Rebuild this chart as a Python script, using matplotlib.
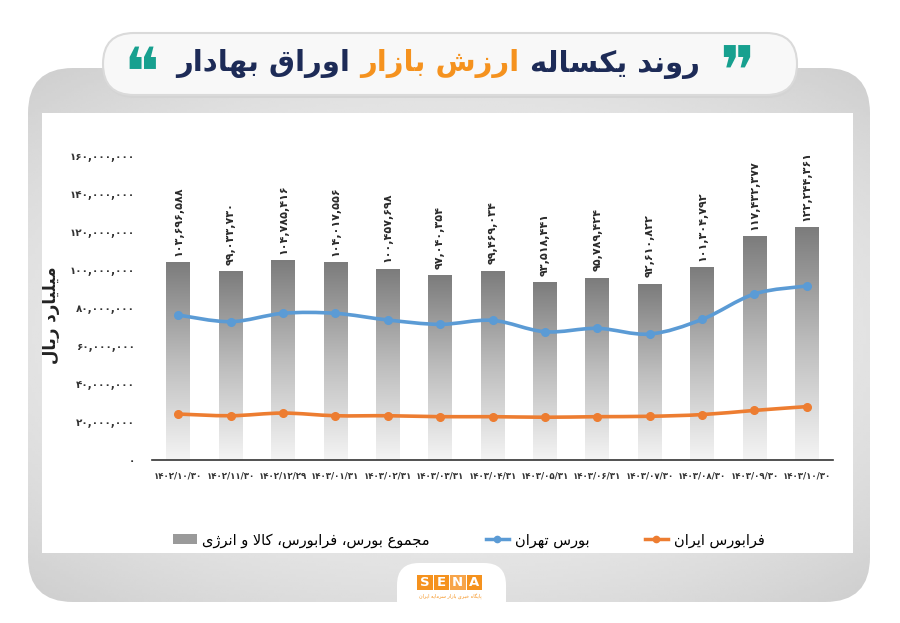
import numpy as np
import matplotlib.pyplot as plt
from matplotlib.patches import FancyBboxPatch, Patch, PathPatch, Rectangle
from matplotlib.path import Path
from matplotlib.lines import Line2D
from matplotlib.colors import LinearSegmentedColormap

# ---- data (billion rial) ----
dates = ['1402/10/30', '1402/11/30', '1402/12/29', '1403/01/31', '1403/02/31',
         '1403/03/31', '1403/04/31', '1403/05/31', '1403/06/31', '1403/07/30',
         '1403/08/30', '1403/09/30', '1403/10/30']
total_market = [103696588, 99033730, 104785416, 104017556, 100457698, 97040354,
                99469034, 93518441, 95789424, 92610822, 101304792, 117432377,
                122244361]
tehran = [76300000, 72800000, 77200000, 77200000, 73700000, 71400000, 73500000,
          67500000, 69300000, 66300000, 74000000, 87400000, 91600000]
farabourse = [24200000, 23300000, 24700000, 23300000, 23300000, 22800000, 22800000,
              22500000, 22800000, 23000000, 23900000, 26100000, 28100000]
y_ticks = [0, 20000000, 40000000, 60000000, 80000000, 100000000, 120000000,
           140000000, 160000000]

title_parts = ['روند یکساله', 'ارزش بازار', 'اوراق بهادار']
y_title = 'میلیارد ریال'
legend_labels = ['مجموع بورس، فرابورس، کالا و انرژی', 'بورس تهران', 'فرابورس ایران']

NAVY = '#1d2b57'
ORANGE = '#f5921e'
TEAL = '#17a08f'
BLUE = '#5b9bd5'
LINE_ORANGE = '#ed7d31'

# ---- minimal Persian shaping (matplotlib has no RTL layout) ----
FORMS = {
    'ا': ('\uFE8D', '\uFE8E', None, None), 'آ': ('\uFE81', '\uFE82', None, None),
    'ب': ('\uFE8F', '\uFE90', '\uFE91', '\uFE92'), 'پ': ('\uFB56', '\uFB57', '\uFB58', '\uFB59'),
    'ت': ('\uFE95', '\uFE96', '\uFE97', '\uFE98'), 'ث': ('\uFE99', '\uFE9A', '\uFE9B', '\uFE9C'),
    'ج': ('\uFE9D', '\uFE9E', '\uFE9F', '\uFEA0'), 'چ': ('\uFB7A', '\uFB7B', '\uFB7C', '\uFB7D'),
    'ح': ('\uFEA1', '\uFEA2', '\uFEA3', '\uFEA4'), 'خ': ('\uFEA5', '\uFEA6', '\uFEA7', '\uFEA8'),
    'د': ('\uFEA9', '\uFEAA', None, None), 'ذ': ('\uFEAB', '\uFEAC', None, None),
    'ر': ('\uFEAD', '\uFEAE', None, None), 'ز': ('\uFEAF', '\uFEB0', None, None),
    'ژ': ('\uFB8A', '\uFB8B', None, None),
    'س': ('\uFEB1', '\uFEB2', '\uFEB3', '\uFEB4'), 'ش': ('\uFEB5', '\uFEB6', '\uFEB7', '\uFEB8'),
    'ص': ('\uFEB9', '\uFEBA', '\uFEBB', '\uFEBC'), 'ض': ('\uFEBD', '\uFEBE', '\uFEBF', '\uFEC0'),
    'ط': ('\uFEC1', '\uFEC2', '\uFEC3', '\uFEC4'), 'ظ': ('\uFEC5', '\uFEC6', '\uFEC7', '\uFEC8'),
    'ع': ('\uFEC9', '\uFECA', '\uFECB', '\uFECC'), 'غ': ('\uFECD', '\uFECE', '\uFECF', '\uFED0'),
    'ف': ('\uFED1', '\uFED2', '\uFED3', '\uFED4'), 'ق': ('\uFED5', '\uFED6', '\uFED7', '\uFED8'),
    'ک': ('\uFB8E', '\uFB8F', '\uFB90', '\uFB91'), 'گ': ('\uFB92', '\uFB93', '\uFB94', '\uFB95'),
    'ل': ('\uFEDD', '\uFEDE', '\uFEDF', '\uFEE0'), 'م': ('\uFEE1', '\uFEE2', '\uFEE3', '\uFEE4'),
    'ن': ('\uFEE5', '\uFEE6', '\uFEE7', '\uFEE8'), 'و': ('\uFEED', '\uFEEE', None, None),
    'ه': ('\uFEE9', '\uFEEA', '\uFEEB', '\uFEEC'), 'ی': ('\uFBFC', '\uFBFD', '\uFBFE', '\uFBFF'),
}


def joins_next(c):
    return c in FORMS and FORMS[c][2] is not None


def fa(s):
    res = []
    i = 0
    while i < len(s):
        c = s[i]
        link_prev = i > 0 and joins_next(s[i - 1])
        if c == 'ل' and i + 1 < len(s) and s[i + 1] == 'ا':
            res.append('\uFEFC' if link_prev else '\uFEFB')
            i += 2
            continue
        if c not in FORMS:
            res.append(c)
            i += 1
            continue
        nxt = s[i + 1] if i + 1 < len(s) else ''
        link_next = joins_next(c) and nxt in FORMS
        iso, fin, ini, med = FORMS[c]
        if link_prev and link_next:
            res.append(med)
        elif link_prev:
            res.append(fin)
        elif link_next:
            res.append(ini)
        else:
            res.append(iso)
        i += 1
    return ''.join(reversed(res))


DIGITS = str.maketrans('0123456789', '۰۱۲۳۴۵۶۷۸۹')


def fnum(v):
    return f'{v:,}'.translate(DIGITS)


W, H = 900, 623
fig = plt.figure(figsize=(W / 100, H / 100), dpi=100)
fig.patch.set_facecolor('white')

# background layer in pixel coordinates
bg = fig.add_axes([0, 0, 1, 1], zorder=0)
bg.set_xlim(0, W)
bg.set_ylim(H, 0)
bg.axis('off')

panel = FancyBboxPatch((28, 68), 842, 534, boxstyle='round,pad=0,rounding_size=45',
                       facecolor='none', edgecolor='none')
bg.add_patch(panel)
yy, xx = np.mgrid[-1:1:200j, -1:1:300j]
shade = 0.95 - 0.08 * (xx ** 2 * 0.8 + yy ** 2)
im = bg.imshow(shade, cmap='gray', vmin=0, vmax=1, extent=[28, 870, 602, 68],
               aspect='auto', zorder=1)
im.set_clip_path(panel)

bg.add_patch(Rectangle((42, 113), 811, 440, facecolor='white', edgecolor='none', zorder=2))

# title pill
bg.add_patch(FancyBboxPatch((104, 36), 694, 62, boxstyle='round,pad=0,rounding_size=31',
                            facecolor='#d4d4d4', edgecolor='none', zorder=3))
bg.add_patch(FancyBboxPatch((103, 33), 694, 62, boxstyle='round,pad=0,rounding_size=31',
                            facecolor='#f8f8f8', edgecolor='#dadada', lw=1.5, zorder=4))

# title text, laid out right to left
renderer = fig.canvas.get_renderer()
colors = [NAVY, ORANGE, NAVY]
texts = []
for part, col in zip(title_parts, colors):
    t = bg.text(0, 64, fa(part), fontsize=21, fontweight='bold', color=col,
                ha='right', va='center', zorder=5, family='DejaVu Sans')
    texts.append(t)
gap = 10
widths = [t.get_window_extent(renderer).width for t in texts]
total = sum(widths) + gap * (len(widths) - 1)
right = 438 + total / 2
for t, w in zip(texts, widths):
    t.set_x(right)
    right -= w + gap
bg.text(737, 76, '\u275E', fontsize=48, color=TEAL, ha='center', va='center', zorder=5)
bg.text(141, 76, '\u275D', fontsize=48, color=TEAL, ha='center', va='center', zorder=5)

# y axis title
bg.text(51, 315, fa(y_title), fontsize=12, fontweight='bold', color='#222222',
        rotation=90, ha='center', va='center', zorder=5)

# logo
bg.add_patch(FancyBboxPatch((397, 563), 109, 60, boxstyle='round,pad=0,rounding_size=22',
                            facecolor='white', edgecolor='none', zorder=3))
for k, ch in enumerate('SENA'):
    x0 = 417 + k * 16.5
    bg.add_patch(Rectangle((x0, 575), 15.5, 15, facecolor=ORANGE if k != 2 else '#f7a54a',
                           edgecolor='none', zorder=4))
    bg.text(x0 + 7.75, 583, ch, fontsize=9.5, fontweight='bold', color='white',
            ha='center', va='center', zorder=5)
bg.text(450, 597, fa('پایگاه خبری بازار سرمایه ایران'), fontsize=3.5, color=ORANGE,
        ha='center', va='center', zorder=5)

# ---- chart ----
ax = fig.add_axes([152 / W, 1 - 460 / H, 681 / W, 304 / H], zorder=2)
ax.patch.set_visible(False)
x = np.arange(len(dates))
bar_w = 0.45
grad = np.linspace(0, 1, 256).reshape(-1, 1)
bar_cmap = LinearSegmentedColormap.from_list('bar', ['#f4f4f4', '#bdbdbd', '#7c7c7c'])
for xi, v in zip(x, total_market):
    ax.imshow(grad, cmap=bar_cmap, origin='lower', aspect='auto',
              extent=[xi - bar_w / 2, xi + bar_w / 2, 0, v], zorder=1)
    ax.text(xi, v + 3500000, fnum(v), rotation=90, ha='center', va='bottom',
            fontsize=8, fontweight='bold', color='#2b2b2b')


def smooth_path(xs, ys):
    pts = np.column_stack([xs, ys]).astype(float)
    ext = np.vstack([pts[0], pts, pts[-1]])
    verts = [pts[0]]
    codes = [Path.MOVETO]
    for i in range(1, len(ext) - 2):
        p0, p1, p2, p3 = ext[i - 1], ext[i], ext[i + 1], ext[i + 2]
        verts += [p1 + (p2 - p0) / 6, p2 - (p3 - p1) / 6, p2]
        codes += [Path.CURVE4] * 3
    return Path(verts, codes)


for series, col in [(tehran, BLUE), (farabourse, LINE_ORANGE)]:
    ax.add_patch(PathPatch(smooth_path(x, series), facecolor='none', edgecolor=col,
                           lw=2.6, zorder=3, capstyle='round'))
    ax.plot(x, series, 'o', color=col, ms=5.5, zorder=4)

ax.set_xlim(-0.5, len(dates) - 0.5)
ax.set_ylim(0, 160000000)
ax.set_yticks(y_ticks)
ax.set_yticklabels([fnum(v) for v in y_ticks], fontsize=7.5, fontweight='bold', color='#333333')
ax.set_xticks(x)
ax.set_xticklabels([d.translate(DIGITS) for d in dates], fontsize=6.2, fontweight='bold',
                   color='#333333')
ax.tick_params(axis='y', length=0, pad=12)
ax.tick_params(axis='x', length=0, pad=8)
for s in ['top', 'right', 'left']:
    ax.spines[s].set_visible(False)
ax.spines['bottom'].set_color('#333333')
ax.spines['bottom'].set_linewidth(1.2)

handles = [Patch(facecolor='#9a9a9a', edgecolor='none'),
           Line2D([], [], color=BLUE, lw=2.5, marker='o', ms=4.5),
           Line2D([], [], color=LINE_ORANGE, lw=2.5, marker='o', ms=4.5)]
leg = fig.legend(handles, [fa(s) for s in legend_labels], loc='center',
                 bbox_to_anchor=(469 / W, 1 - 540 / H), ncol=3, frameon=False,
                 fontsize=10.5, columnspacing=3.8, handlelength=1.6, handletextpad=0.4)
leg.set_zorder(5)

fig.savefig('out.png', dpi=100, facecolor='white')
